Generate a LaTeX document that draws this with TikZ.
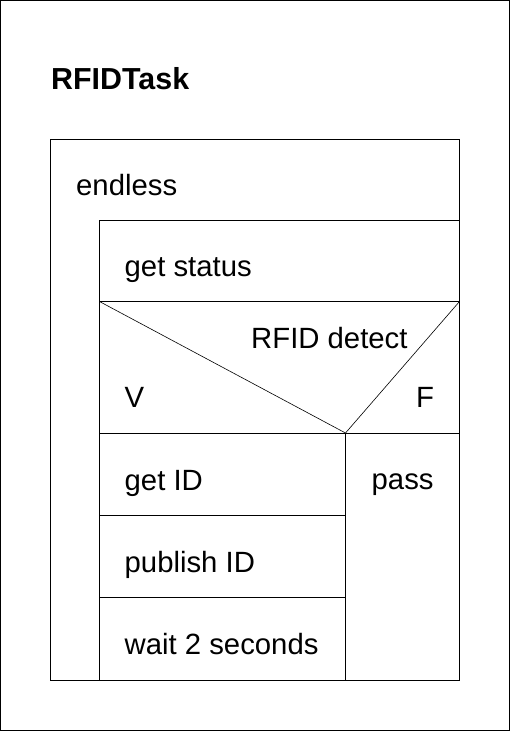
\documentclass[tikz,border=0pt]{standalone}
\usepackage{fontspec}
\setmainfont{Liberation Sans}
\usetikzlibrary{positioning}

\begin{document}
\begin{tikzpicture}[
  x=1pt, y=-1pt,
  frame/.style={draw, line width=1pt},
  diag/.style={draw, line width=0.6pt},
  label/.style={anchor=base west, inner sep=0pt,
                font=\fontsize{29.3}{35}\selectfont},
  title/.style={anchor=base west, inner sep=0pt,
                font=\fontsize{30.4}{36}\selectfont\bfseries}
]
\useasboundingbox (0,0) rectangle (510,731);
\draw[frame] (0.5,0.5) rectangle (509.5,730.5);

% task name
\node[title] (task) at (51,89) {RFIDTask};

% endless loop
\draw[frame] (50.5,139.5) rectangle (459.5,680);
\draw[frame] (459.5,220.5) -- (99.5,220.5) -- (99.5,680);
\node[label] (loop) at (76,195.5) {endless};

% get status
\draw[frame] (99.5,301.5) -- (459.5,301.5);
\node[label] (status) at (124.5,276.5) {get status};

% decision
\coordinate (tl) at (99.5,301.5);
\coordinate (tr) at (459.5,301.5);
\coordinate (tip) at (345.5,433);
\draw[diag] (tl) -- (tip) -- (tr);
\draw[frame] (99.5,433) -- (459.5,433);
\node[label] (cond) at (251,348.5) {RFID detect};
\node[label] (yes)  at (124.5,407.5) {V};
\node[label] (no)   at (416,407.5) {F};

% branches
\draw[frame] (tip) -- (345.5,680);
\draw[frame] (99.5,515) -- (345.5,515);
\draw[frame] (99.5,597) -- (345.5,597);
\node[label] (getid) at (124.5,490) {get ID};
\node[label] (pub)   at (124.5,572) {publish ID};
\node[label] (wait)  at (124.5,654) {wait 2 seconds};
\node[label] (pass)  at (371.5,489) {pass};
\end{tikzpicture}
\end{document}
